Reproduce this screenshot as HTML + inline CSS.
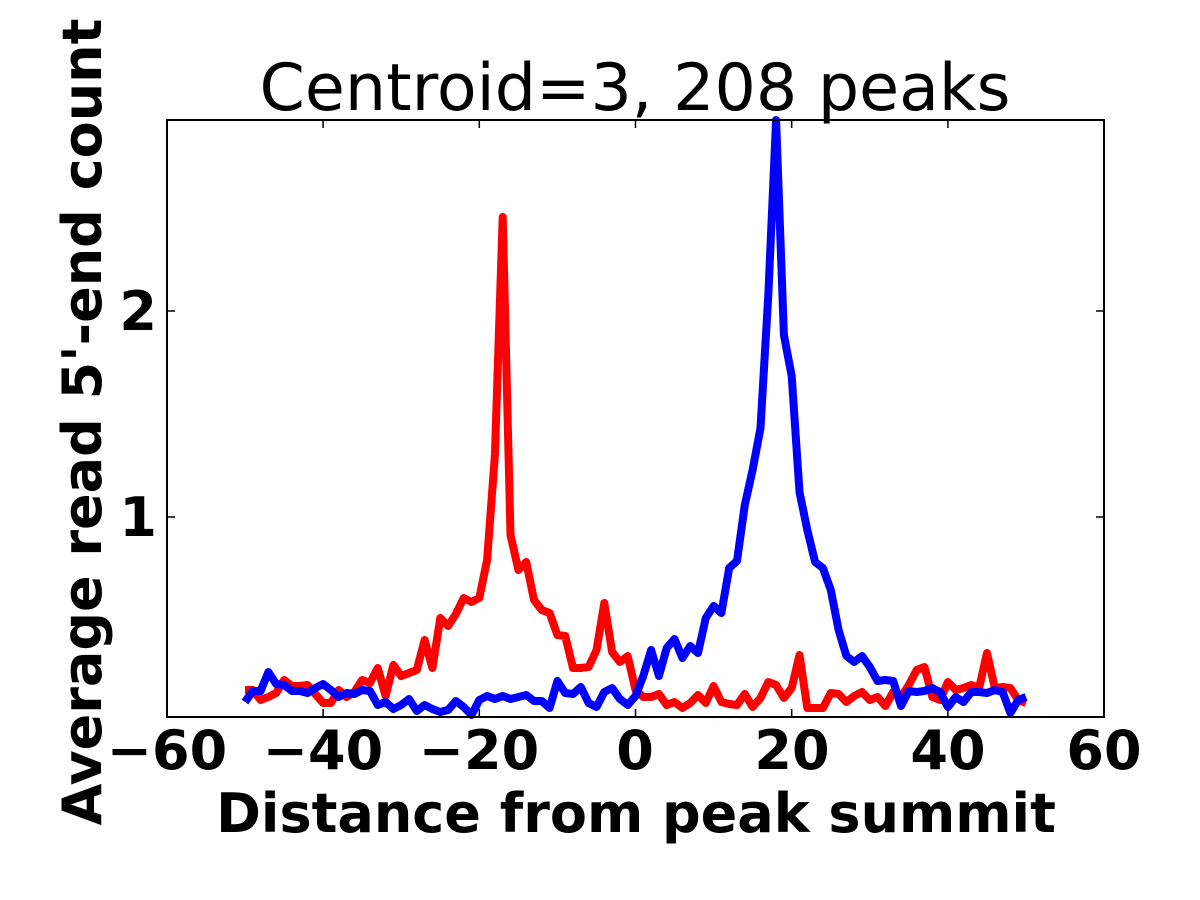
<!DOCTYPE html>
<html><head><meta charset="utf-8"><style>
html,body{margin:0;padding:0;background:#fff;}
svg{display:block;}
text{font-family:"DejaVu Sans","Liberation Sans",sans-serif;}
</style></head><body>
<svg id="s" width="1200" height="900" xmlns="http://www.w3.org/2000/svg">
<rect width="1200" height="900" fill="#fff"/>
<text x="635" y="110" font-size="65" text-anchor="middle">Centroid=3, 208 peaks</text>
<g id="lines"></g>
<rect x="167" y="120" width="937" height="597" fill="none" stroke="#000" stroke-width="2"/>
<g id="ticks" stroke="#000" stroke-width="1.5"></g>
<g font-size="54" font-weight="bold" text-anchor="middle">
<text x="167" y="769">−60</text>
<text x="323" y="769">−40</text>
<text x="479" y="769">−20</text>
<text x="635" y="769">0</text>
<text x="792" y="769">20</text>
<text x="948" y="769">40</text>
<text x="1104" y="769">60</text>
</g>
<g font-size="54" font-weight="bold" text-anchor="end">
<text x="157" y="536">1</text>
<text x="157" y="330">2</text>
</g>
<text x="636" y="832" font-size="54" font-weight="bold" text-anchor="middle">Distance from peak summit</text>
<text transform="translate(101,422) rotate(-90)" font-size="54" font-weight="bold" text-anchor="middle">Average read 5'-end count</text>
</svg>
<script>
var red=[690,690,700,697,693,680,686,686,685,694,703,703,690,697,692,680,683,668,696,665,676,673,670,640,668,618,626,614,598,602,598,560,455,217,535,570,562,600,610,613,635,636,668,668,667,650,603,652,662,656,690,697,697,694,705,702,708,703,695,703,686,702,704,705,694,707,698,682,685,698,688,655,708,708,708,693,694,702,696,692,700,697,706,692,697,685,670,667,697,700,682,690,688,685,688,653,688,687,688,700,703,704];
var blue=[702,691,691,672,684,685,691,691,693,688,684,690,697,693,694,690,691,705,702,709,705,699,711,705,709,712,710,701,707,715,700,696,699,696,699,697,695,701,701,708,681,693,694,687,703,707,692,688,699,705,696,676,650,676,648,639,658,646,653,618,606,613,568,561,505,470,428,295,120,335,376,492,530,562,568,590,630,656,662,656,667,681,680,681,706,691,692,691,688,692,707,697,702,692,692,693,690,692,713,700,697];
red=red.slice(0,101);
function pts(a){return a.map(function(y,i){return (635.5+7.81*(i-50)).toFixed(1)+','+y;}).join(' ');}
var g=document.getElementById('lines');
g.innerHTML='<polyline points="'+pts(red)+'" fill="none" stroke="#f00" stroke-width="8" stroke-linejoin="round"/>'+
'<polyline points="'+pts(blue)+'" fill="none" stroke="#00f" stroke-width="8" stroke-linejoin="round"/>';
var t='';
for(var i=-60;i<=60;i+=20){var x=635.5+7.81*i;t+='<line x1="'+x+'" y1="717" x2="'+x+'" y2="709"/><line x1="'+x+'" y1="120" x2="'+x+'" y2="128"/>';}
[517,311].forEach(function(y){t+='<line x1="167" y1="'+y+'" x2="175" y2="'+y+'"/><line x1="1104" y1="'+y+'" x2="1096" y2="'+y+'"/>';});
document.getElementById('ticks').innerHTML=t;
</script>
</body></html>
